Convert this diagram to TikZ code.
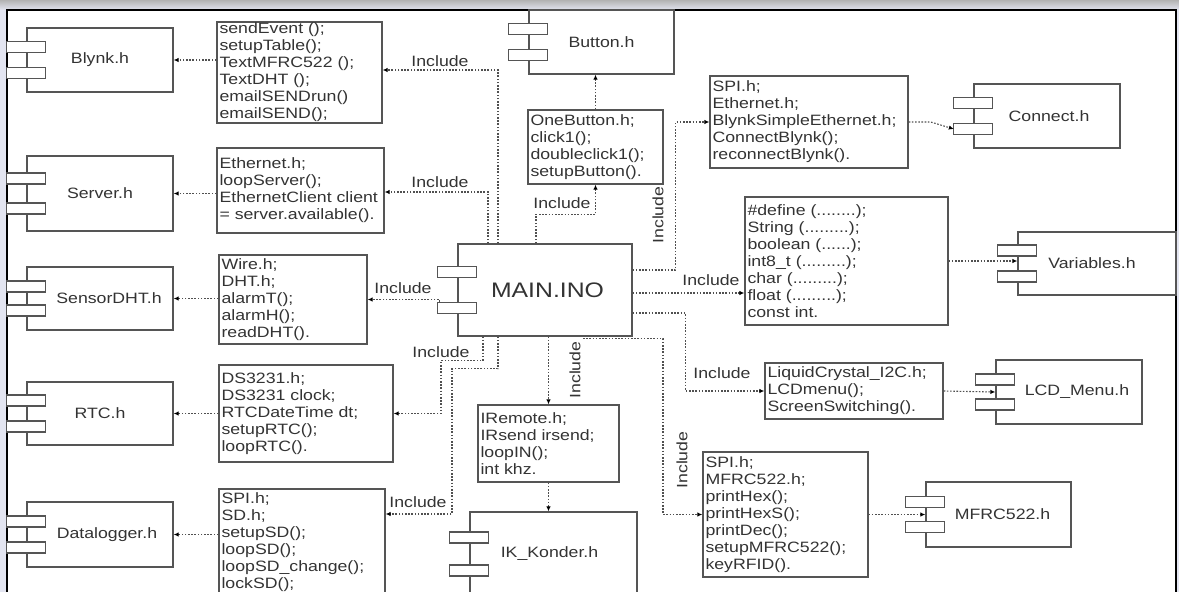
\documentclass[tikz,border=0pt]{standalone}
\usepackage{fontspec}
\newfontfamily\lblfont[FakeStretch=1.18]{Liberation Sans}
\usetikzlibrary{arrows.meta,calc}
\definecolor{txt}{HTML}{333333}
\definecolor{edge}{HTML}{555555}
\definecolor{dots}{HTML}{505050}
\definecolor{bgc}{HTML}{E3E5F1}
\newcommand{\comptabs}[2]{%
  \draw[tabsty] ($(#1.west)+(-19.5,-#2-5.5)$) rectangle ++(39,11);
  \draw[tabsty] ($(#1.west)+(-19.5,#2-5.5)$) rectangle ++(39,11);}
\begin{document}
\begin{tikzpicture}[x=1pt,y=-1pt,
  lbl/.style={font=\lblfont\fontsize{15}{17}\selectfont, text=txt, inner sep=0pt},
  comp/.style={draw=edge, line width=1.3pt, fill=white, font=\lblfont\fontsize{15}{17}\selectfont, text=txt, inner sep=0pt},
  tabsty/.style={draw=edge, line width=1.2pt, fill=white},
  tbox/.style={draw=edge, line width=1.3pt, fill=white, inner sep=0pt},
  tlines/.style={lbl, align=left, anchor=west},
  dep/.style={draw=dots, line width=1.1pt, dash pattern=on 1.6pt off 1.6pt, -{Latex[length=5pt,width=4.5pt,black]}},
]
\useasboundingbox (0,0) rectangle (1179,592);
\clip (0,0) rectangle (1179,592);
% background
\fill[bgc] (0,0) rectangle (1179,592);
\shade[top color=black!30, bottom color=bgc] (0,0) rectangle (1179,10);
\fill[white] (7,10) rectangle (1176,600);
\draw[black, line width=1.5pt] (7,600) -- (7,10) -- (1176,10) -- (1176,600);

% components
\node[comp, minimum width=146pt, minimum height=64pt] (blynk) at (100,60) {Blynk.h};
\comptabs{blynk}{13}
\node[comp, minimum width=146pt, minimum height=75pt] (server) at (100,193.5) {Server.h};
\comptabs{server}{15}
\node[comp, minimum width=146pt, minimum height=63pt] (dht) at (100,298.5) {\hspace*{18pt}SensorDHT.h};
\comptabs{dht}{12}
\node[comp, minimum width=146pt, minimum height=63pt] (rtc) at (100,413.5) {RTC.h};
\comptabs{rtc}{13}
\node[comp, minimum width=146pt, minimum height=65pt] (dlog) at (100,534.5) {\hspace*{14pt}Datalogger.h};
\comptabs{dlog}{13}
\node[comp, minimum width=145pt, minimum height=64pt] (button) at (601.5,42) {Button.h};
\comptabs{button}{12.75}
\node[comp, minimum width=174pt, minimum height=92pt, font=\lblfont\fontsize{21}{24}\selectfont] (main) at (545,290) {\hspace*{5pt}MAIN.INO};
\comptabs{main}{18}
\node[comp, minimum width=146pt, minimum height=64pt] (connect) at (1047,116) {\hspace*{4pt}Connect.h};
\comptabs{connect}{13}
\node[comp, minimum width=158pt, minimum height=63pt] (variables) at (1097,263.5) {Variables.h\hspace*{10pt}};
\comptabs{variables}{13}
\node[comp, minimum width=146pt, minimum height=64pt] (lcd) at (1069,392) {\hspace*{16pt}LCD\_Menu.h};
\comptabs{lcd}{12.5}
\node[comp, minimum width=145pt, minimum height=65pt] (mfrc) at (998.5,514.5) {\hspace*{8pt}MFRC522.h};
\comptabs{mfrc}{12.5}
\node[comp, minimum width=167pt, minimum height=84pt] (ik) at (553.5,554) {IK\_Konder.h\hspace*{8pt}};
\comptabs{ik}{16.5}

% text boxes
\node[tbox, minimum width=165pt, minimum height=101pt] (t1) at (299.5,72.5) {};
\node[tlines] (t1t) at ([xshift=3pt]t1.west) {sendEvent ();\\setupTable();\\TextMFRC522 ();\\TextDHT ();\\emailSENDrun()\\emailSEND();};
\node[tbox, minimum width=167pt, minimum height=85pt] (t2) at (300.5,190.5) {};
\node[tlines] (t2t) at ([xshift=3pt]t2.west) {Ethernet.h;\\loopServer();\\EthernetClient client\\= server.available().};
\node[tbox, minimum width=148pt, minimum height=89pt] (t3) at (293,299.5) {};
\node[tlines] (t3t) at ([xshift=3pt]t3.west) {Wire.h;\\DHT.h;\\alarmT();\\alarmH();\\readDHT().};
\node[tbox, minimum width=174pt, minimum height=97pt] (t4) at (306,413.5) {};
\node[tlines] (t4t) at ([xshift=3pt]t4.west) {DS3231.h;\\DS3231 clock;\\RTCDateTime dt;\\setupRTC();\\loopRTC().};
\node[tbox, minimum width=166pt, minimum height=106pt] (t5) at (302,542) {};
\node[tlines] (t5t) at ([xshift=3pt]t5.west) {SPI.h;\\SD.h;\\setupSD();\\loopSD();\\loopSD\_change();\\lockSD();};
\node[tbox, minimum width=135pt, minimum height=74pt] (tb) at (595.5,147) {};
\node[tlines] (tbt) at ([xshift=3pt]tb.west) {OneButton.h;\\click1();\\doubleclick1();\\setupButton().};
\node[tbox, minimum width=198pt, minimum height=92pt] (tc) at (809,122) {};
\node[tlines] (tct) at ([xshift=3pt]tc.west) {SPI.h;\\Ethernet.h;\\BlynkSimpleEthernet.h;\\ConnectBlynk();\\reconnectBlynk().};
\node[tbox, minimum width=203pt, minimum height=128pt] (tv) at (846.5,261) {};
\node[tlines] (tvt) at ([xshift=3pt]tv.west) {\#define (........);\\String (.........);\\boolean (......);\\int8\_t (.........);\\char (.........);\\float (.........);\\const int.};
\node[tbox, minimum width=178pt, minimum height=56pt] (tl) at (854,391) {};
\node[tlines] (tlt) at ([xshift=3pt]tl.west) {LiquidCrystal\_I2C.h;\\LCDmenu();\\ScreenSwitching().};
\node[tbox, minimum width=165pt, minimum height=125pt] (tm) at (785.5,514.5) {};
\node[tlines] (tmt) at ([xshift=3pt]tm.west) {SPI.h;\\MFRC522.h;\\printHex();\\printHexS();\\printDec();\\setupMFRC522();\\keyRFID().};
\node[tbox, minimum width=141pt, minimum height=77pt] (ti) at (548.5,443.5) {};
\node[tlines] (tit) at ([xshift=3pt]ti.west) {IRemote.h;\\IRsend irsend;\\loopIN();\\int khz.};

% text box -> component
\draw[dep] (t1.west |- blynk.east) -- (blynk.east);
\draw[dep] (t2.west |- server.east) -- (server.east);
\draw[dep] (t3.west |- dht.east) -- (dht.east);
\draw[dep] (t4.west |- rtc.east) -- (rtc.east);
\draw[dep] (t5.west |- dlog.east) -- (dlog.east);
\draw[dep] (tb.north) -- (tb.north |- button.south);
\draw[dep] (tc.east) -- ++(22,0) -- ($(connect.west)+(-19.5,13)$);
\draw[dep] (tv.east) -- (variables.west |- tv.east);
\draw[dep] (tl.east) -- (lcd.west);
\draw[dep] (tm.east) -- (mfrc.west);
\draw[dep] (ti.south) -- (ti.south |- ik.north);

% includes from MAIN
\draw[dep] ([xshift=-47pt]main.north) |- ([yshift=2.5pt]t1.east);
\node[lbl] (L1) at (440,61) {Include};
\draw[dep] ([xshift=-57pt]main.north) |- ([yshift=-1.5pt]t2.east);
\node[lbl] (L2) at (440,182) {Include};
\draw[dep] ([xshift=-9pt]main.north) -- ++(0,-29) -| (tb.south);
\node[lbl] (L3) at (562,203) {Include};
\draw[dep] ([yshift=20pt]main.east) -- ++(43,0) |- (tc.west);
\node[lbl, rotate=90] (L4) at (658,215) {Include};
\draw[dep] ([yshift=-3pt]main.east) -- ([yshift=-3pt]main.east -| tv.west);
\node[lbl] (L5) at (711,280) {Include};
\draw[dep] ([yshift=-23pt]main.east) -- ++(53,0) |- (tl.west);
\node[lbl] (L6) at (722,373) {Include};
\draw[dep] ([xshift=38pt,yshift=-2pt]main.south) -- ++(80,0) |- (tm.west);
\node[lbl, rotate=90] (L7) at (682,460) {Include};
\draw[dep] (ti.north |- main.south) -- (ti.north);
\node[lbl, rotate=90] (L8) at (575,370) {Include};
\draw[dep] ([xshift=-62pt]main.south) -- ++(0,24) -- ++(-42,0) |- (t4.east);
\node[lbl] (L9) at (441,352) {Include};
\draw[dep] ([xshift=-47pt]main.south) -- ++(0,32) -- ++(-46,0) |- ([yshift=28pt]t5.east);
\node[lbl] (L10) at (418,502) {Include};
\draw[dep] ([xshift=-18pt,yshift=-12pt]main.west) |- (t3.east);
\node[lbl] (L11) at (403,288) {Include};
\end{tikzpicture}
\end{document}
